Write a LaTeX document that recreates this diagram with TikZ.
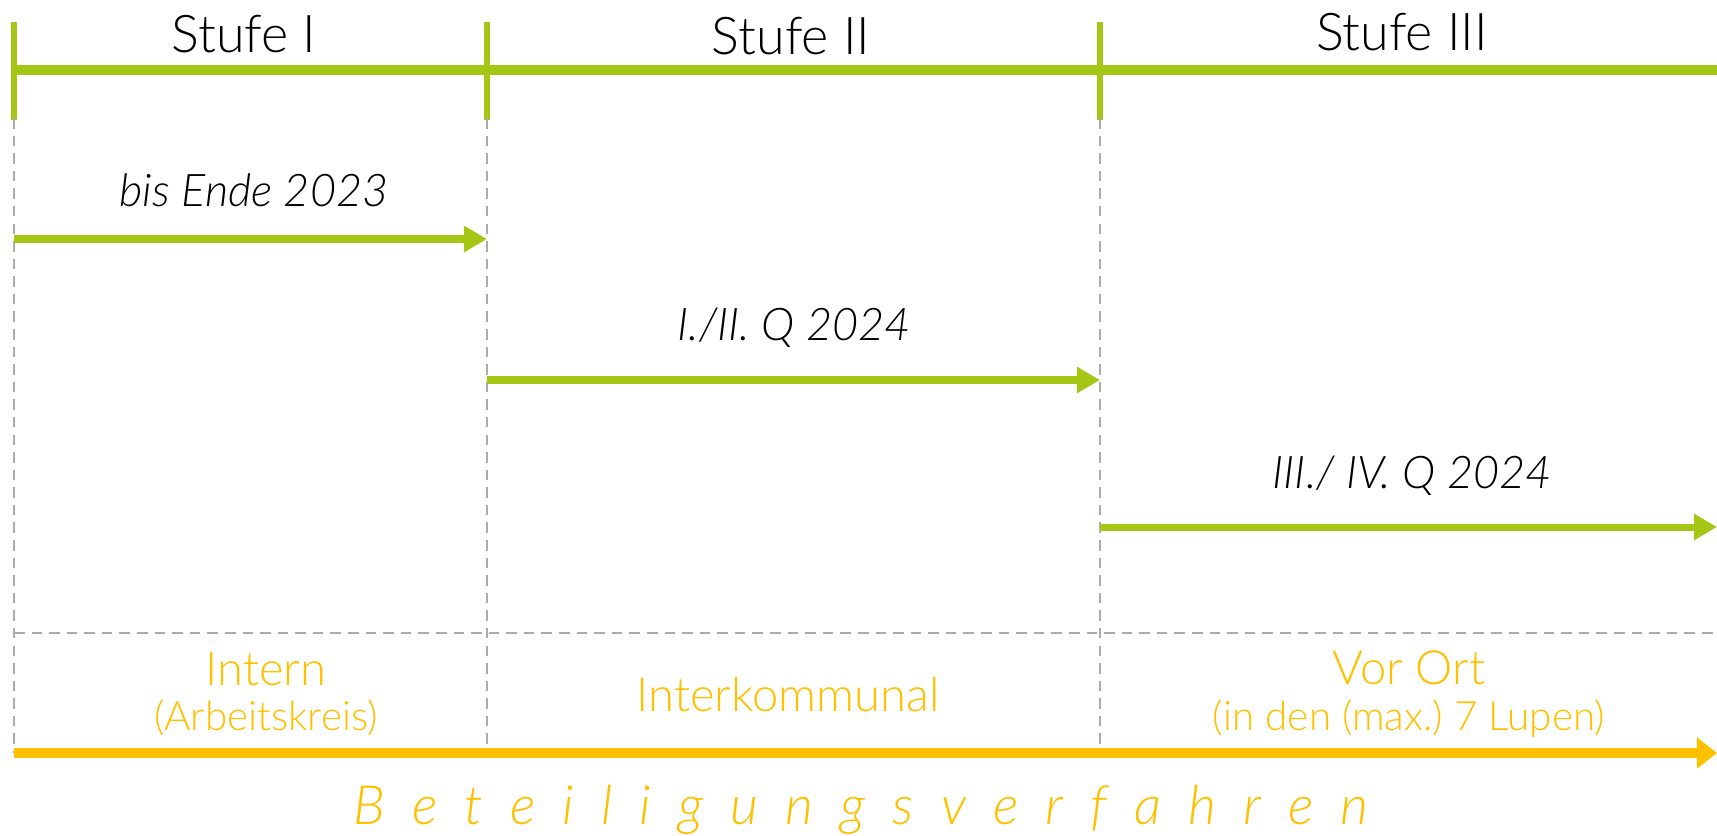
\documentclass[tikz,border=0pt]{standalone}
\usepackage{fontspec}
\setmainfont{Lato Light}[ItalicFont={Lato Light Italic}]
\usetikzlibrary{arrows.meta}

\definecolor{stgreen}{HTML}{A4C614}
\definecolor{stgold}{HTML}{FFC000}
\definecolor{stgrey}{HTML}{ABABAB}

\begin{document}
\frenchspacing
\begin{tikzpicture}[x=0.01cm,y=-0.01cm,
    grn/.style={draw=stgreen,line width=2pt,-{Triangle[length=0.23cm,width=0.25cm,fill=stgreen]}},
    tick/.style={draw=stgreen,line width=1.7pt},
    grid/.style={draw=stgrey,line width=0.5pt,dash pattern=on 3pt off 2pt},
    stage/.style={font=\fontsize{14.8}{17}\selectfont,text=black},
    period/.style={font=\fontsize{12.8}{15}\selectfont\itshape,text=black},
    part/.style={font=\fontsize{13.4}{16}\selectfont,text=stgold,align=center}]
    \useasboundingbox (0,0) rectangle (1717,835);
    % stufen
    \coordinate (t0) at (14,70);
    \coordinate (t1) at (487,70);
    \coordinate (t2) at (1100,70);
    \coordinate (t3) at (1717,70);
    \draw[draw=stgreen,line width=2.6pt] (t0) -- (t3);
    \foreach \t in {t0,t1,t2}
        \draw[tick] ([yshift=-0.5cm]\t) -- ([yshift=0.48cm]\t);
    \node[stage] (st1) at (244,34) {Stufe I};
    \node[stage] (st2) at (791,36) {Stufe II};
    \node[stage] (st3) at (1402,32) {Stufe III};
    % raster
    \foreach \x in {14,487,1100}
        \draw[grid] (\x,118) -- (\x,753);
    \draw[grid] (14,633) -- (1717,633);
    % zeitraeume
    \node[period] (p1) at (254,190) {bis Ende 2023};
    \node[period] (p2) at (794,328) {I./II. Q 2024};
    \node[period] (p3) at (1412,476) {III./ IV. Q 2024};
    \coordinate (a0) at (14,239);
    \coordinate (a1) at (487,239);
    \coordinate (b0) at (487,380);
    \coordinate (b1) at (1100,380);
    \coordinate (c0) at (1100,527);
    \coordinate (c1) at (1717,527);
    \path (a0) edge[grn] (a1);
    \path (b0) edge[grn] (b1);
    \path (c0) edge[grn] (c1);
    % beteiligung
    \node[part] (q1) at (266,694) {Intern\\[-3pt]{\fontsize{11.5}{14}\selectfont(Arbeitskreis)}};
    \node[part] (q2) at (788,695) {Interkommunal};
    \node[part] (q3) at (1409,694) {Vor Ort\\[-3pt]{\fontsize{11.5}{14}\selectfont(in den (max.) 7 Lupen)}};
    \coordinate (o0) at (14,753);
    \coordinate (o1) at (1717,753);
    \path (o0) edge[draw=stgold,line width=2.6pt,-{Triangle[length=0.2cm,width=0.3cm,fill=stgold]}] (o1);
    \node[text=stgold,font=\fontsize{15.4}{18}\selectfont\itshape] (bv) at (861,810)
        {\spaceskip=0.5em B e t e i l i g u n g s v e r f a h r e n};
\end{tikzpicture}
\end{document}
